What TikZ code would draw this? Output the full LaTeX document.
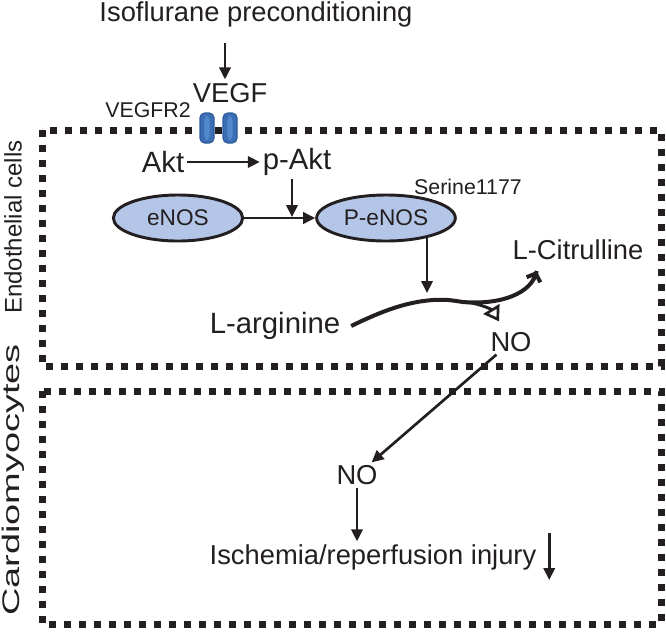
\documentclass[tikz,border=0pt]{standalone}
\usepackage{fontspec}
\usepackage{graphicx}
\setmainfont{Liberation Sans}
\usetikzlibrary{arrows.meta,calc,shapes.geometric}
\definecolor{ink}{HTML}{231F20}
\definecolor{ellblue}{HTML}{B4C6E7}
\definecolor{recblue}{HTML}{3C6EB4}
\definecolor{reclight}{HTML}{5289CF}
\definecolor{recdark}{HTML}{2B5A9A}
\begin{document}
\begin{tikzpicture}[x=0.75pt,y=-0.75pt,
  every node/.style={text=ink},
  lbl/.style={inner sep=2pt, font=\fontsize{20.5}{24}\selectfont},
  big/.style={inner sep=2pt, font=\fontsize{22}{26}\selectfont},
  small/.style={inner sep=1pt, font=\fontsize{16}{19}\selectfont},
  side/.style={inner sep=1pt, font=\fontsize{18}{21}\selectfont, rotate=90},
  enz/.style={ellipse, draw=ink, line width=2.2pt, fill=ellblue, inner sep=0pt,
              minimum width=97pt, minimum height=34.5pt, font=\fontsize{17}{20}\selectfont},
  dotbox/.style={draw=ink, line width=5.25pt, dash pattern=on 5.25pt off 6pt},
  arr/.style={draw=ink, line width=2pt, -{Triangle[length=9pt,width=8.5pt]}},
  curve/.style={draw=ink, line width=3pt},
  receptor/.style={rectangle, rounded corners=3.5pt, draw=recdark, line width=0.8pt,
                   fill=recblue, minimum width=10.5pt, minimum height=22.5pt, inner sep=0pt,
                   path picture={\fill[reclight] ($(path picture bounding box.center)+(-2.6,-12)$) rectangle ($(path picture bounding box.center)+(2.6,12)$);}}
]
\useasboundingbox (0,0) rectangle (666,633);

% compartments
\draw[dotbox] (42,130) rectangle (661,366);
\draw[dotbox] (42,391) rectangle (661,624);

% side labels
\node[side] (endo) at (13,227) {Endothelial cells};
\node[side] (cardio) at (13,480) {\scalebox{1.58}[1]{Cardiomyocytes}};

% top
\node[lbl] (iso) at (256,14) {Isoflurane preconditioning};
\node[lbl] (vegf) at (230,93) {VEGF};
\node[small] (vegfr) at (148,110) {VEGFR2};
\node[receptor] (r1) at (207,128) {};
\node[receptor] (r2) at (230,128) {};
\coordinate (v1) at ($(vegf.north)+(-5,-37)$);
\coordinate (v2) at ($(vegf.north)+(-5,-1)$);
\draw[arr] (v1) -- (v2);

% Akt
\node[big] (akt) at (163,162) {Akt};
\node[big] (pakt) at (297,162) {p-Akt};
\draw[arr] (akt) -- (pakt);

% eNOS
\node[enz] (enos) at (178,218) {eNOS};
\node[enz, minimum width=104pt] (penos) at (386,218) {P-eNOS};
\node[small] (ser) at (468,187) {Serine1177};
\draw[arr] (enos) -- (penos);
\coordinate (pa1) at ($(pakt.south)+(-5,0)$);
\path (pa1 |- enos.east) coordinate (pa2);
\draw[arr] (pa1) -- ($(pa2)+(0,-1)$);

% reaction
\node[big] (larg) at (275,326) {L-arginine};
\node[lbl] (lcit) at (578,250) {L-Citrulline};
\node[lbl] (no1) at (511,342) {NO};
\coordinate (jn) at (433,300);
\coordinate (br) at (463,302);
\coordinate (citip) at ($(lcit.south west)+(27,8)$);
\coordinate (notip) at ($(no1.north)+(-12,-8)$);
\coordinate (pe1) at ($(penos.south)+(41,-4)$);
\path (pe1 |- jn) coordinate (pe2);
\draw[arr] (pe1) -- ($(pe2)+(0,-7)$);
\draw[curve] ($(larg.east)+(8,0)$) .. controls (380,312) and (405,302) .. (jn)
   .. controls (448,299) and (455,301) .. (br)
   .. controls (500,305) and (532,294) .. (citip);
\draw[curve, -{Straight Barb[length=5pt,width=11pt]}] ($(citip)+(-3,8)$) -- (citip);
\draw[line width=2.2pt, draw=ink, -{Triangle[open,length=11pt,width=14pt,line width=2pt]}]
   (br) .. controls (480,303) and (492,310) .. (notip);

% cardiomyocytes
\node[lbl] (no2) at (357,475) {NO};
\node[lbl] (isch) at (373,557) {Ischemia/reperfusion injury};
\draw[arr] (no1) -- (no2);
\draw[arr] (no2.south) -- (no2.south |- isch.north);
\coordinate (dn1) at ($(isch.east)+(10,-24)$);
\coordinate (dn2) at ($(isch.east)+(10,23)$);
\draw[arr] (dn1) -- (dn2);
\end{tikzpicture}
\end{document}
